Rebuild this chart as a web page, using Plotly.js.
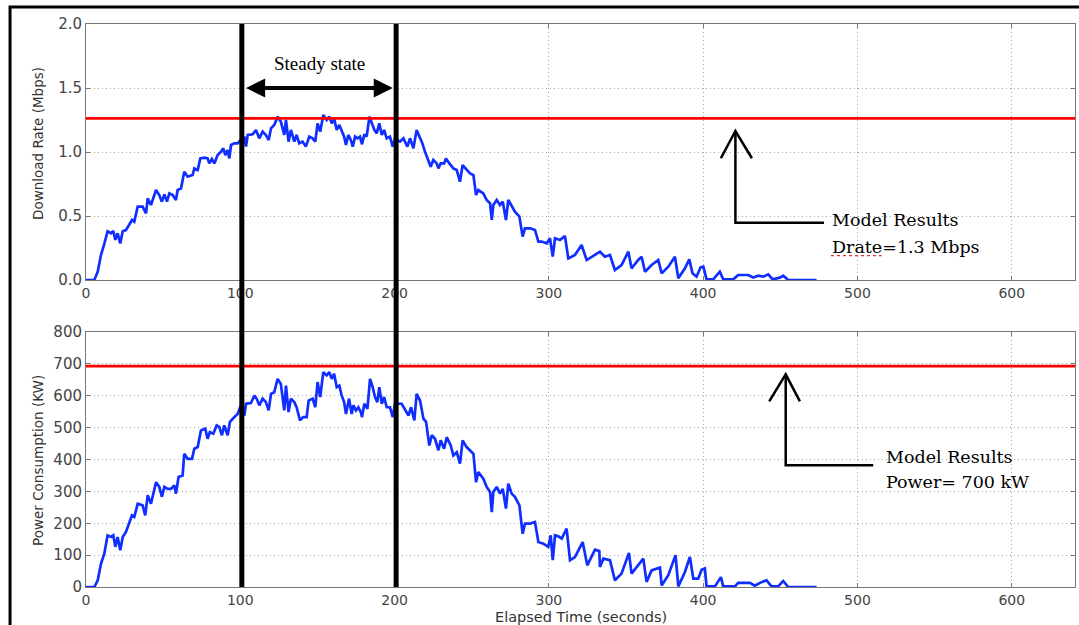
<!DOCTYPE html>
<html>
<head>
<meta charset="utf-8">
<script src="https://cdn.plot.ly/plotly-3.0.1.min.js"></script>
<style>html,body{margin:0;padding:0;background:#fff;}#chart{width:1079px;height:625px;}</style>
</head>
<body>
<div id="chart"></div>
<script>
// Download rate (Mbps) vs elapsed time (s)
const rateTime = [0,5.4,7.6,9.7,11.9,14,16.2,17.7,19,20.5,22.2,23.8,25.9,28,29.8,31.3,33.5,36.7,38.9,40,42.1,45.4,47.5,49.2,50.8,52.5,54,56.2,58.3,59.4,61.6,63.7,65.9,69.1,70.2,72.4,74.1,76.7,78.8,79.9,81.6,83.2,85.3,87.5,89,90.3,91.8,92.9,94,96.1,98.3,100.4,102.6,103.7,104.8,108,110.2,112.3,114.5,116.6,118.4,119.9,122,124.2,126.3,128.5,129.6,131.3,132.8,135,136.5,138.2,140.4,142.5,144.7,146.9,148.6,150.1,151.8,153.8,156,157.7,159.3,160.8,162.5,164.2,165.7,167.3,168.5,170,171.6,172.9,174.4,175.9,177.6,178.9,180.4,181.9,183.7,185.2,186.9,188.4,190.1,191.7,193.2,194.9,197,198.8,200.3,203.5,205.7,208.3,210,212.2,214.3,216.1,217.6,219.7,221.9,223.4,225.1,227.3,228.4,229.9,232.1,233.3,235.5,238.1,240.3,242.4,244.1,246.7,248.9,251.1,252.8,254.3,257.5,259.7,261.9,263,264,266.2,268.3,270.1,272.2,273.7,275.9,278,280.9,283,284.5,287.8,291,292.1,293.2,295.3,298.6,300.7,302.5,304,307.2,310.4,312.6,316.9,321.2,324.5,329.9,333.1,336.3,339.6,342.8,347.1,351.5,353.6,357.9,360.1,362.3,366.6,370.9,373.1,377.4,381.7,383.9,388.2,391,393.1,395.7,398.3,400.1,402.2,406.5,410.8,413,419.5,422.7,426,429.2,432.5,435.7,439,442.2,445,449.7,451.9,455.1,473.5];
const rateMbps = [0,0,0.065,0.195,0.285,0.38,0.365,0.383,0.313,0.365,0.286,0.38,0.39,0.43,0.469,0.456,0.573,0.573,0.52,0.638,0.586,0.703,0.664,0.612,0.669,0.612,0.677,0.664,0.625,0.703,0.716,0.846,0.807,0.82,0.872,0.859,0.95,0.956,0.95,0.911,0.945,0.911,0.976,1.003,1.029,0.976,1.016,0.95,1.055,1.068,1.068,1.094,1.12,1.042,1.133,1.138,1.172,1.107,1.159,1.133,1.094,1.185,1.211,1.276,1.237,1.133,1.25,1.081,1.172,1.081,1.133,1.068,1.081,1.042,1.12,1.107,1.081,1.224,1.159,1.289,1.25,1.276,1.224,1.263,1.172,1.211,1.172,1.12,1.055,1.133,1.094,1.042,1.12,1.107,1.12,1.06,1.138,1.12,1.276,1.224,1.172,1.146,1.224,1.133,1.172,1.107,1.12,1.042,1.107,1.081,1.107,1.042,1.107,1.029,1.172,1.12,1.081,1.003,0.938,0.885,0.938,0.911,0.872,0.911,0.911,0.95,0.911,0.872,0.859,0.768,0.898,0.859,0.833,0.82,0.664,0.703,0.677,0.625,0.599,0.469,0.586,0.625,0.586,0.612,0.469,0.625,0.573,0.534,0.495,0.339,0.404,0.404,0.391,0.339,0.3,0.3,0.286,0.326,0.183,0.326,0.313,0.344,0.169,0.195,0.273,0.156,0.195,0.221,0.182,0.195,0.078,0.117,0.221,0.091,0.156,0.182,0.065,0.117,0.156,0.052,0.104,0.182,0.013,0.091,0.161,0.052,0.026,0.099,0.104,0.005,0.005,0.065,0.005,0.005,0.039,0.039,0.039,0.02,0.034,0.026,0.044,0.005,0.018,0.034,0,0];

// Power consumption (kW) vs elapsed time (s)
const powerTime = [0,5.4,7.6,9.7,11.9,14,16.2,17.7,19,20.5,22.2,23.8,25.9,28,29.8,31.3,33.5,36.7,38.4,40,42.1,45.4,47.5,49.2,50.8,52.9,55.1,57.2,58.3,60,62.6,63.7,65.9,68.7,70.2,72.4,74.5,77.3,78.8,80.3,82.5,84.7,86.4,88.1,89.6,91.8,93.3,96.1,98.3,100.4,102.6,103.7,106.9,109.1,110.6,112.3,114.5,116.6,118.4,119.9,122,124.2,126.3,128.5,129.6,131.3,132.8,135,136.5,138.7,140.8,143,144.3,146.9,148.6,150.1,151.8,153.8,156,157.7,159.3,160.8,162.5,164.2,165.7,167.3,168.5,170.5,172.2,173.3,175,176.5,178.1,178.9,180.4,182.4,184.1,185.8,187.3,188.8,190.1,191.7,193.2,194.9,197,198.8,200.3,204.6,206.8,209,210.7,212.8,214.3,216.5,218.7,220.4,222.5,224.1,226.2,228.4,229.9,232.1,233.8,236.4,238.1,240.3,242.4,244.1,246.7,248.9,251.1,252.8,254.3,257.5,259.7,261.9,263,264,266.2,268.3,270.1,272.2,273.7,275.9,278,280.9,283,284.5,287.8,291,292.1,293.2,296.4,299.6,301.2,302.5,304,306.1,308.3,311.5,313.7,316.9,321.9,324.9,329.9,332.7,333.1,335.3,339.6,342.8,347.1,351.9,353.6,357.9,361.2,363.3,366.6,372,373.1,377.4,382.1,383.9,388.2,391.4,393.6,396.8,399,401.1,402.2,407.6,411.5,413,420.6,422.7,427.1,430.3,433.5,436.8,441.1,444.3,448.6,451.9,455.1,473.5];
const powerKW = [0,0,21,73,105,162,157,162,126,157,115,157,173,199,225,220,261,256,225,288,261,329,314,283,314,308,308,319,293,345,350,418,402,402,434,439,491,497,465,486,481,507,502,476,507,476,518,533,543,570,538,575,577,601,591,570,591,580,554,606,611,653,637,554,632,549,591,580,564,523,533,533,585,591,564,643,596,674,664,674,653,669,627,632,601,580,543,591,543,570,554,564,549,533,575,559,653,627,596,580,627,575,596,564,564,533,575,575,554,538,564,523,606,585,528,518,444,476,465,429,460,434,470,444,413,423,387,460,439,429,418,329,361,340,314,298,235,298,314,293,308,246,324,293,283,256,167,199,199,204,178,141,136,126,162,84,162,159,152,183,84,94,141,68,117,113,63,89,84,21,42,107,42,68,89,16,52,61,5,37,100,2,47,94,26,26,54,58,2,2,31,2,2,13,13,13,4,13,21,2,2,19,0,0];

// Model results (horizontal reference lines) and steady-state window
const modelTime = [0, 641];
const modelRate = [1.263, 1.263];
const modelPower = [693, 693];
const steadyStart = 101;
const steadyEnd = 201;

const xTicks = [0, 100, 200, 300, 400, 500, 600];
const rateTicks = [0, 0.5, 1.0, 1.5, 2.0];
const powerTicks = [0, 100, 200, 300, 400, 500, 600, 700, 800];

const blue = '#0f2eff';
const yTickFont = {family: 'DejaVu Sans', size: 15, color: '#444'};
const xTickFont = {family: 'DejaVu Sans', size: 14, color: '#444'};
const titleFont = {family: 'DejaVu Sans', size: 13.5, color: '#333'};
const noteFont = {family: 'DejaVu Serif', size: 17.5, color: '#000'};

const traces = [
  {x: rateTime, y: rateMbps, xaxis: 'x', yaxis: 'y', mode: 'lines', line: {color: blue, width: 2.7}},
  {x: modelTime, y: modelRate, xaxis: 'x', yaxis: 'y', mode: 'lines', line: {color: '#ff0000', width: 2.6}},
  {x: powerTime, y: powerKW, xaxis: 'x2', yaxis: 'y2', mode: 'lines', line: {color: blue, width: 2.7}},
  {x: modelTime, y: modelPower, xaxis: 'x2', yaxis: 'y2', mode: 'lines', line: {color: '#ff0000', width: 2.6}}
];

function xAxis(anchor) {
  return {
    anchor: anchor, range: [0, 641], tickvals: xTicks, ticktext: xTicks.map(String),
    showgrid: true, gridcolor: '#a8a8a8', griddash: '1px,3px', gridwidth: 1,
    showline: true, linecolor: '#777', linewidth: 1, mirror: 'ticks',
    ticks: 'inside', ticklen: 4, tickcolor: '#777',
    tickfont: xTickFont, zeroline: false, fixedrange: true
  };
}
function yAxis(anchor, domain, range, ticks, fmt) {
  return {
    anchor: anchor, domain: domain, range: range, tickvals: ticks,
    ticktext: ticks.map(v => fmt(v)),
    showgrid: true, gridcolor: '#a8a8a8', griddash: '1px,3px', gridwidth: 1,
    showline: true, linecolor: '#777', linewidth: 1, mirror: 'ticks',
    ticks: 'inside', ticklen: 4, tickcolor: '#777',
    tickfont: yTickFont, zeroline: false, fixedrange: true
  };
}

const layout = {
  width: 1079, height: 625,
  margin: {l: 86, r: 4, t: 24, b: 38},
  paper_bgcolor: '#fff', plot_bgcolor: '#fff',
  showlegend: false,
  xaxis: xAxis('y'),
  yaxis: yAxis('x', [0.5453, 1], [0, 2.0], rateTicks, v => v.toFixed(1)),
  xaxis2: xAxis('y2'),
  yaxis2: yAxis('x2', [0, 0.4529], [0, 800], powerTicks, v => String(v)),
  shapes: [
    // outer frame
    {type: 'rect', xref: 'paper', yref: 'paper', x0: -0.0768, x1: 1.01, y0: -0.08, y1: 1.030, line: {color: '#000', width: 3}},
    // steady-state boundaries
    {type: 'line', xref: 'x', yref: 'paper', x0: steadyStart, x1: steadyStart, y0: 0, y1: 1, line: {color: '#000', width: 5}},
    {type: 'line', xref: 'x', yref: 'paper', x0: steadyEnd, x1: steadyEnd, y0: 0, y1: 1, line: {color: '#000', width: 5}},
    // elbow arrow to Drate line
    {type: 'path', xref: 'x', yref: 'y', path: 'M 478.3 0.448 L 420.9 0.448 L 420.9 1.164', line: {color: '#000', width: 2.5}},
    {type: 'path', xref: 'x', yref: 'y', path: 'M 411.5 0.951 L 420.9 1.164 L 431.6 0.951', line: {color: '#000', width: 2.5}},
    // spell-check underline under "Drate"
    {type: 'line', xref: 'x', yref: 'y', x0: 482.8, x1: 515.6, y0: 0.19, y1: 0.19, line: {color: '#e03030', width: 1.2, dash: 'dot'}},
    // elbow arrow to Power line
    {type: 'path', xref: 'x2', yref: 'y2', path: 'M 510.2 381.8 L 453.5 381.8 L 453.5 667.3', line: {color: '#000', width: 2.5}},
    {type: 'path', xref: 'x2', yref: 'y2', path: 'M 442.8 582.5 L 453.5 667.3 L 462.7 582.5', line: {color: '#000', width: 2.5}}
  ],
  annotations: [
    // axis titles
    {xref: 'paper', yref: 'paper', x: -0.0485, y: 0.787, textangle: -90, showarrow: false, xanchor: 'center', yanchor: 'middle',
     text: 'Download Rate (Mbps)', font: titleFont},
    {xref: 'paper', yref: 'paper', x: -0.0485, y: 0.224, textangle: -90, showarrow: false, xanchor: 'center', yanchor: 'middle',
     text: 'Power Consumption (KW)', font: titleFont},
    {xref: 'paper', yref: 'paper', x: 0.5, y: -0.0524, showarrow: false, xanchor: 'center', yanchor: 'middle',
     text: 'Elapsed Time (seconds)', font: {family: 'DejaVu Sans', size: 14.5, color: '#333'}},
    // steady state
    {xref: 'x', yref: 'y', x: (steadyStart + steadyEnd) / 2 + 0.5, y: 1.69, text: 'Steady state', showarrow: false,
     font: {family: 'Liberation Serif', size: 19, color: '#000'}},
    {xref: 'x', yref: 'y', x: 198.8, y: 1.5, axref: 'x', ayref: 'y', ax: 102.8, ay: 1.5, text: '',
     showarrow: true, arrowhead: 2, arrowside: 'end+start', arrowwidth: 4, arrowsize: 0.95, arrowcolor: '#000', standoff: 0, startstandoff: 0},
    // model results notes
    {xref: 'x', yref: 'y', x: 482.3, y: 0.469, xanchor: 'left', yanchor: 'middle', showarrow: false, text: 'Model Results', font: noteFont},
    {xref: 'x', yref: 'y', x: 482.3, y: 0.26, xanchor: 'left', yanchor: 'middle', showarrow: false, text: 'Drate=1.3 Mbps', font: noteFont},
    {xref: 'x2', yref: 'y2', x: 517.3, y: 407.6, xanchor: 'left', yanchor: 'middle', showarrow: false, text: 'Model Results', font: noteFont},
    {xref: 'x2', yref: 'y2', x: 517.3, y: 329.2, xanchor: 'left', yanchor: 'middle', showarrow: false, text: 'Power= 700 kW', font: noteFont}
  ]
};

Plotly.newPlot('chart', traces, layout, {displayModeBar: false, staticPlot: true});
</script>
</body>
</html>
